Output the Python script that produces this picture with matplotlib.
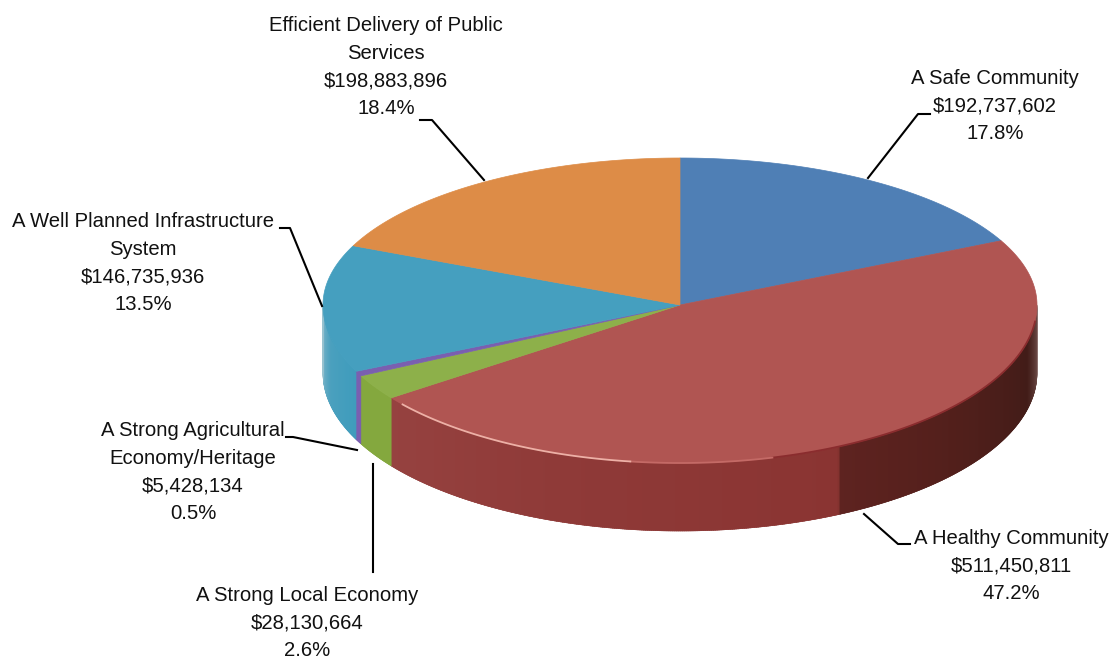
import numpy as np
import matplotlib
matplotlib.use("Agg")
import matplotlib.pyplot as plt
from matplotlib.colors import to_rgb
from matplotlib.patches import Polygon

names = ["A Safe Community", "A Healthy Community", "A Strong Local Economy",
         "A Strong Agricultural\nEconomy/Heritage", "A Well Planned Infrastructure\nSystem",
         "Efficient Delivery of Public\nServices"]
amounts = ["$192,737,602", "$511,450,811", "$28,130,664", "$5,428,134", "$146,735,936", "$198,883,896"]
shares = [17.8, 47.2, 2.6, 0.5, 13.5, 18.4]
colors = ["#4F7FB5", "#B05552", "#8DB04A", "#7A5FB0", "#459FBF", "#DD8C47"]

# wall shading: (angle clockwise from top, colour) for each slice
wall_stops = [[(90, "#4F7FB5")],
              [(90, "#947A78"), (94, "#6A4844"), (104, "#421C18"), (135, "#55201C"), (153.6, "#5E2320"),
               (153.7, "#8A3432"), (200, "#8F3A38"), (234, "#964240")],
              [(234, "#84A83E"), (243, "#84A83E")],
              [(243, "#7A5FB0"), (245, "#7A5FB0")],
              [(245, "#3F9CBC"), (258, "#4AA0BE"), (266, "#6FB0C6"), (270, "#9CC4D0")],
              [(270, "#DD8C47")]]

label_x = [995, 1011, 307, 193, 143, 386]
label_y = [106, 566, 623, 472, 263, 67]
leaders = [[(868, 178), (918, 114), (930, 114)],
           [(864, 514), (898, 544), (910, 544)],
           [(373, 464), (373, 572)],
           [(357, 450), (293, 437), (286, 437)],
           [(322, 306), (290, 228), (280, 228)],
           [(484, 180), (432, 120), (420, 120)]]

cx, cy, rx, ry_up, ry_down, depth = 680, 305, 357, 147, 158, 68

fig = plt.figure(figsize=(11.14, 6.62), dpi=100)
ax = fig.add_axes([0, 0, 1, 1])
ax.set_xlim(0, 1114)
ax.set_ylim(662, 0)
ax.axis("off")


def edge(a):
    # a is clockwise from the top, the near half of the ellipse is a bit deeper
    c = np.cos(a)
    return cx + rx * np.sin(a), cy - np.where(c > 0, ry_up, ry_down) * c


def wall_color(i, deg):
    stops = wall_stops[i]
    pos = [s[0] for s in stops]
    rgb = np.array([to_rgb(s[1]) for s in stops])
    return [np.interp(deg, pos, rgb[:, k]) for k in range(3)]


edges = np.radians(np.cumsum([0] + shares) / sum(shares) * 360)

# side wall, in small strips
for i in range(len(shares)):
    lo, hi = max(edges[i], np.pi / 2), min(edges[i + 1], 3 * np.pi / 2)
    if lo >= hi:
        continue
    steps = np.linspace(lo, hi, int(np.degrees(hi - lo) * 3) + 2)
    for s0, s1 in zip(steps[:-1], steps[1:]):
        t = np.array([s0, s1 + 0.004])
        x, y = edge(t)
        c = wall_color(i, np.degrees((s0 + s1) / 2))
        ax.fill(np.r_[x, x[::-1]], np.r_[y, y[::-1] + depth], fc=c, ec=c, lw=0.4, zorder=1)

# top faces
for i in range(len(shares)):
    t = np.linspace(edges[i], edges[i + 1], 200)
    x, y = edge(t)
    ax.add_patch(Polygon(np.c_[np.r_[cx, x], np.r_[cy, y]], closed=True,
                         fc=colors[i], ec=colors[i], lw=0.5, zorder=2))

# bevel details on the red slice
t = np.radians(np.linspace(96, 165, 80))
ax.plot(*edge(t), color="#8A2C2E", lw=1.3, zorder=3)
t = np.radians(np.linspace(165, 188, 30))
ax.plot(*edge(t), color="#C46A66", lw=1.3, zorder=3)
t = np.radians(np.linspace(188, 231, 80))
ax.plot(*edge(t), color="#EDB0A6", lw=1.3, zorder=3)

for pts in leaders:
    ax.plot(*zip(*pts), color="black", lw=1.5, zorder=4)

for i in range(len(names)):
    ax.text(label_x[i], label_y[i], names[i] + "\n" + amounts[i] + "\n" + str(shares[i]) + "%",
            ha="center", va="center", fontsize=14.6, family="Liberation Sans",
            linespacing=1.58, color="#111111", zorder=5)

fig.savefig("out.png", dpi=100)
